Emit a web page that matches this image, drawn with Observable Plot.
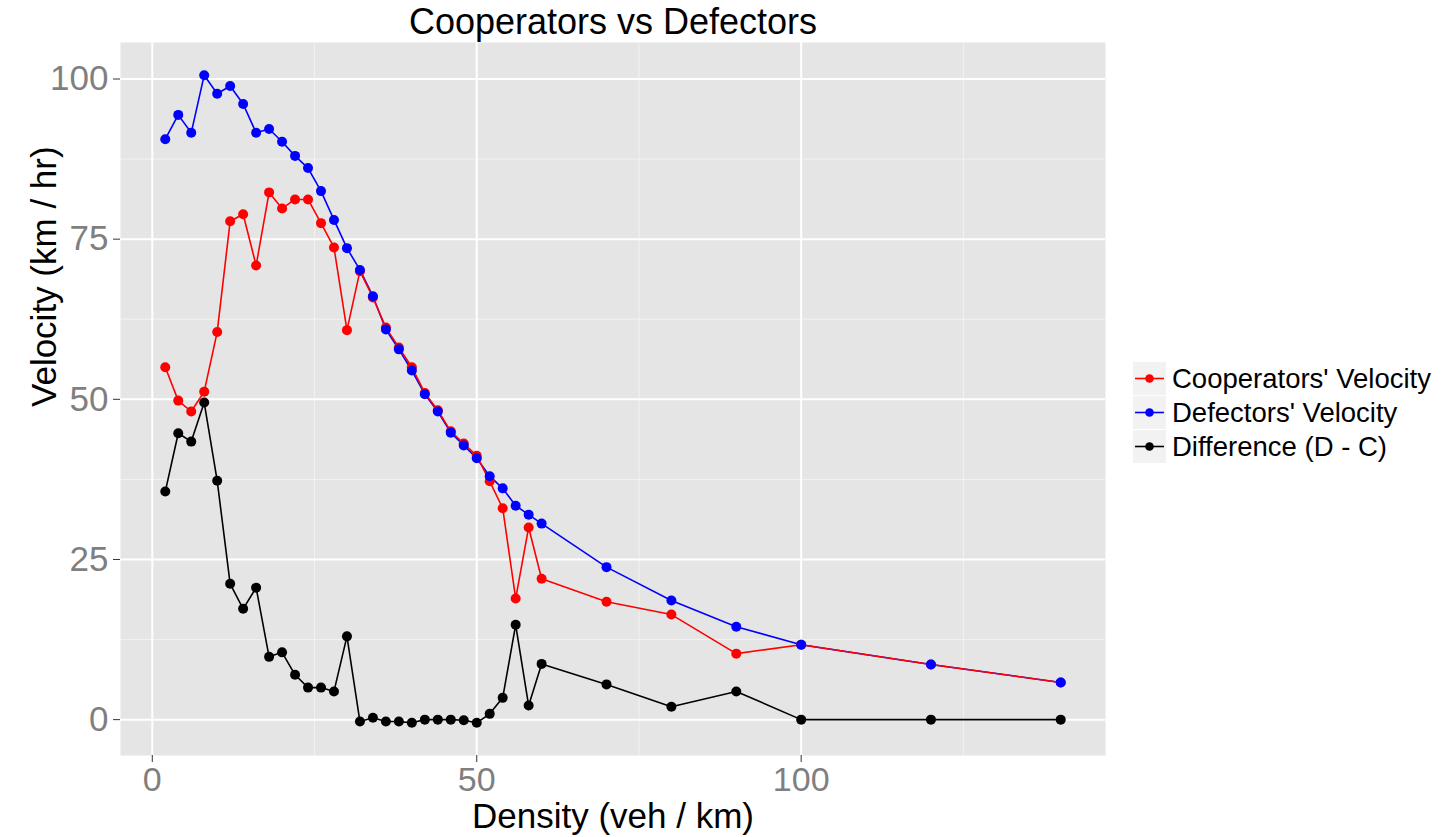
<!DOCTYPE html>
<html>
<head>
<meta charset="utf-8">
<script src="https://cdn.jsdelivr.net/npm/d3@7"></script>
<script src="https://cdn.jsdelivr.net/npm/@observablehq/plot@0.6"></script>
<style>
  body { margin: 0; background: white; font-family: "Liberation Sans", Arial, sans-serif; }
  #chart-display { position: relative; width: 1453px; height: 837px; }
  #legend { position: absolute; left: 1133px; top: 362px; }
  .row { display: flex; align-items: center; height: 34px; }
  .key { width: 33px; height: 33px; background: #f2f2f2; border-bottom: 1px solid white; }
  .lab { font-size: 27.5px; margin-left: 6px; color: black; white-space: nowrap; }
</style>
</head>
<body>
<div id="chart-display"><div id="legend"></div></div>
<script>
// density (veh / km)
const density = [2, 4, 6, 8, 10, 12, 14, 16, 18, 20, 22, 24, 26, 28, 30, 32, 34, 36, 38, 40,
  42, 44, 46, 48, 50, 52, 54, 56, 58, 60, 70, 80, 90, 100, 120, 140]

const cooperators = [55.0, 49.8, 48.1, 51.2, 60.5, 77.8, 78.9, 70.9, 82.3, 79.8, 81.2, 81.2, 77.5, 73.7, 60.8, 70.0, 65.9, 61.2, 58.1, 55.0,
  51.0, 48.3, 45.0, 43.1, 41.2, 37.2, 33.0, 18.9, 30.0, 22.0, 18.4, 16.4, 10.3, 11.7, 8.6, 5.8]

const defectors = [90.6, 94.4, 91.6, 100.6, 97.7, 98.9, 96.1, 91.6, 92.2, 90.2, 88.0, 86.1, 82.5, 78.0, 73.6, 70.2, 66.1, 60.9, 57.8, 54.5,
  50.8, 48.1, 44.8, 42.8, 40.8, 38.0, 36.1, 33.4, 32.0, 30.6, 23.8, 18.6, 14.5, 11.7, 8.6, 5.8]

const difference = [35.6, 44.7, 43.4, 49.5, 37.3, 21.2, 17.3, 20.6, 9.8, 10.5, 7.0, 5.0, 5.0, 4.4, 13.0, -0.3, 0.3, -0.3, -0.3, -0.5,
  0.0, 0.0, 0.0, -0.1, -0.5, 0.9, 3.4, 14.8, 2.2, 8.7, 5.5, 2.0, 4.4, 0.0, 0.0, 0.0]

const seriesNames = ["Cooperators' Velocity", "Defectors' Velocity", "Difference (D - C)"]
const seriesColors = ["#ff0000", "#0000ff", "#000000"]

const xTicks = [0, 50, 100]
const xMinor = [25, 75, 125]
const yTicks = [0, 25, 50, 75, 100]
const yMinor = [12.5, 37.5, 62.5, 87.5]

const rows = s => density.map((d, i) => ({density: d, value: [cooperators, defectors, difference][s][i], series: seriesNames[s]}))
const coop = rows(0), def = rows(1), diff = rows(2)

const font = '"Liberation Sans", Arial, sans-serif'

const plot = Plot.plot({
  width: 1453,
  height: 837,
  marginLeft: 120,
  marginRight: 348,
  marginTop: 42,
  marginBottom: 82,
  style: {fontFamily: font, background: "white", overflow: "visible"},
  x: {domain: [-4.9, 146.9]},
  y: {domain: [-5.6, 105.7]},
  color: {domain: seriesNames, range: seriesColors},
  marks: [
    Plot.frame({fill: "#e5e5e5", stroke: null}),
    Plot.gridX(xMinor, {stroke: "#f2f2f2", strokeOpacity: 1, strokeWidth: 1}),
    Plot.gridY(yMinor, {stroke: "#f2f2f2", strokeOpacity: 1, strokeWidth: 1}),
    Plot.gridX(xTicks, {stroke: "white", strokeOpacity: 1, strokeWidth: 2}),
    Plot.gridY(yTicks, {stroke: "white", strokeOpacity: 1, strokeWidth: 2}),
    Plot.axisX({ticks: xTicks, tickSize: 7, tickPadding: 4, fontSize: 34, fill: "#7f7f7f", stroke: "#333333", label: null}),
    Plot.axisY({ticks: yTicks, tickSize: 7, tickPadding: 5, fontSize: 35, fill: "#7f7f7f", stroke: "#333333", label: null}),
    Plot.line(def, {x: "density", y: "value", stroke: "series", strokeWidth: 1.6}),
    Plot.line(coop, {x: "density", y: "value", stroke: "series", strokeWidth: 1.6}),
    Plot.line(diff, {x: "density", y: "value", stroke: "series", strokeWidth: 1.6}),
    Plot.dot(coop, {x: "density", y: "value", fill: "series", r: 5}),
    Plot.dot(def, {x: "density", y: "value", fill: "series", r: 5}),
    Plot.dot(diff, {x: "density", y: "value", fill: "series", r: 5}),
    Plot.text(["Cooperators vs Defectors"], {frameAnchor: "top", lineAnchor: "bottom", dy: -9, fontSize: 36, fill: "black"}),
    Plot.text(["Density (veh / km)"], {frameAnchor: "bottom", lineAnchor: "bottom", dy: 72, fontSize: 35, fill: "black"}),
    Plot.text(["Velocity (km / hr)"], {frameAnchor: "left", lineAnchor: "bottom", rotate: -90, dx: -65, dy: 8, fontSize: 35, fill: "black"})
  ]
})

document.querySelector("#chart-display").prepend(plot)

// legend, drawn beside the panel like ggplot's guide
const legend = document.querySelector("#legend")
seriesNames.forEach((name, i) => {
  const row = document.createElement("div")
  row.className = "row"
  row.innerHTML = `<div class="key"><svg width="33" height="33">
      <line x1="2" x2="31" y1="16.5" y2="16.5" stroke="${seriesColors[i]}" stroke-width="1.6"/>
      <circle cx="16.5" cy="16.5" r="4.3" fill="${seriesColors[i]}"/></svg></div>
    <div class="lab">${name}</div>`
  legend.append(row)
})
</script>
</body>
</html>
